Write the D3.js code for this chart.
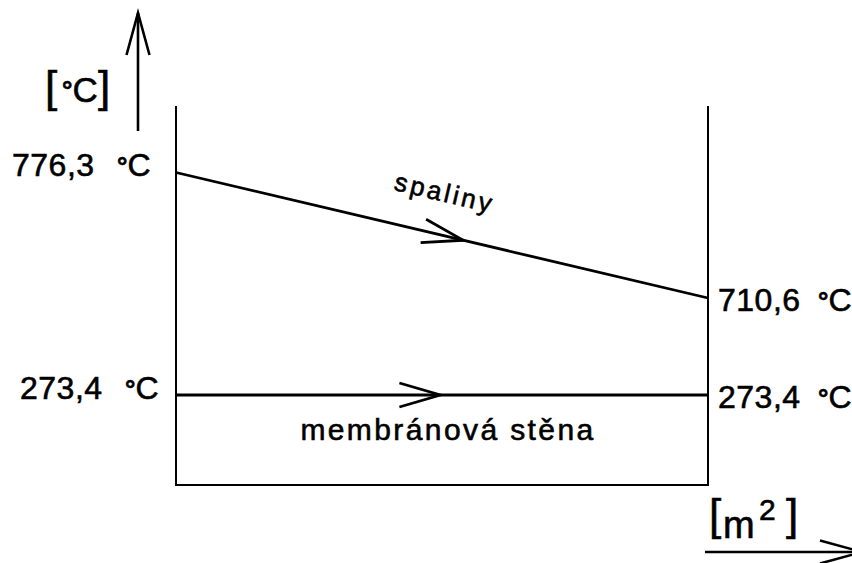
<!DOCTYPE html>
<html>
<head>
<meta charset="utf-8">
<script src="https://cdn.jsdelivr.net/npm/d3@7"></script>
<style>
  html, body { margin: 0; padding: 0; background: #fff; }
  svg { display: block; font-family: "Liberation Sans", Arial, sans-serif; }
  text { fill: #000; stroke: #000; stroke-width: 0.6px; }
</style>
</head>
<body>
<svg id="chart" width="852" height="563"></svg>
<script>
// Temperature profile of flue gas and membrane wall along the heating surface
const streams = ["spaliny", "membránová stěna"];
const inletTemps = [776.3, 273.4];   // °C at the start of the surface
const outletTemps = [710.6, 273.4];  // °C at the end of the surface
const positions = [0, 1];            // relative position along the surface area
const arrowAt = [0.54, 0.497];       // where the flow-direction arrow sits on each line
const unitY = ["[", "°C", "]"];
const unitX = ["[", "m", "2", "]"];

const svg = d3.select("#chart");

// Frame of the diagram
const frame = { left: 176, right: 708, top: 106, bottom: 485 };

const x = d3.scaleLinear().domain([0, 1]).range([frame.left, frame.right]);
// Schematic (not-to-scale) temperature axis: piecewise linear through the shown values
const tempStops = [273.4, 710.6, 776.3];
const y = d3.scaleLinear().domain(tempStops).range([395, 298, 172.5]);

const fmt = d3.formatLocale({ decimal: ",", thousands: " ", grouping: [3], currency: ["", ""] }).format(".1f");

// Frame: left, bottom and right edges
svg.append("path")
  .attr("d", `M${frame.left},${frame.top} V${frame.bottom} H${frame.right} V${frame.top}`)
  .attr("fill", "none").attr("stroke", "#000").attr("stroke-width", 2);

// Stream lines
const line = d3.line().x(d => x(d.p)).y(d => y(d.t));
const streamData = streams.map((name, i) => ({
  name,
  pts: positions.map((p, j) => ({ p, t: j === 0 ? inletTemps[i] : outletTemps[i] })),
  arrow: arrowAt[i]
}));

svg.selectAll("path.stream").data(streamData).join("path")
  .attr("class", "stream")
  .attr("d", d => line(d.pts))
  .attr("fill", "none").attr("stroke", "#000").attr("stroke-width", 2.8);

// Open arrowheads showing flow direction
function arrowHead(tipX, tipY, ang, len, half) {
  const c = Math.cos(ang), s = Math.sin(ang);
  const bx = tipX - len * c, by = tipY - len * s;
  return `M${bx - half * s},${by + half * c} L${tipX},${tipY} L${bx + half * s},${by - half * c}`;
}

svg.selectAll("path.flow").data(streamData).join("path")
  .attr("class", "flow")
  .attr("d", d => {
    const [a, b] = d.pts;
    const x0 = x(a.p), y0 = y(a.t), x1 = x(b.p), y1 = y(b.t);
    const tx = x0 + (x1 - x0) * d.arrow, ty = y0 + (y1 - y0) * d.arrow;
    return arrowHead(tx, ty, Math.atan2(y1 - y0, x1 - x0), 41, 12);
  })
  .attr("fill", "none").attr("stroke", "#000").attr("stroke-width", 2.8)
  .attr("stroke-linejoin", "miter");

// Temperature label: value, then the unit with a solid degree mark
const valueSize = 32;
function tempLabel(vx, ux, ty, t) {
  svg.append("text").attr("x", vx).attr("y", ty)
    .attr("font-size", valueSize).attr("letter-spacing", 0.5).text(fmt(t));
  const u = svg.append("text").attr("x", ux).attr("y", ty).attr("font-size", valueSize);
  u.append("tspan").attr("font-weight", "bold").attr("font-size", 26).attr("dy", -1).text("°");
  u.append("tspan").attr("dy", 1).text("C");
}
streamData.forEach((d, i) => {
  tempLabel(i === 0 ? 12 : 20, i === 0 ? 117 : 125, y(inletTemps[i]) + 3.5, inletTemps[i]);
  tempLabel(718, 818, y(outletTemps[i]) + 13, outletTemps[i]);
});

// Stream names
{
  const d = streamData[0];
  const [a, b] = d.pts;
  const x0 = x(a.p), y0 = y(a.t), x1 = x(b.p), y1 = y(b.t);
  const ang = Math.atan2(y1 - y0, x1 - x0);
  const f = 0.487;
  const cx = x0 + (x1 - x0) * f, cy = y0 + (y1 - y0) * f;
  const off = 33;
  const px = cx + off * Math.sin(ang), py = cy - off * Math.cos(ang);
  svg.append("text")
    .attr("transform", `translate(${px},${py}) rotate(${ang * 180 / Math.PI})`)
    .attr("text-anchor", "middle").attr("font-size", 26).attr("letter-spacing", 3)
    .text(d.name);
}
svg.append("text")
  .attr("x", (x(0) + x(1)) / 2 + 6).attr("y", y(inletTemps[1]) + 45)
  .attr("text-anchor", "middle").attr("font-size", 30).attr("letter-spacing", 2.4)
  .text(streamData[1].name);

// Axis arrows
const axisG = svg.append("g").attr("fill", "none").attr("stroke", "#000").attr("stroke-width", 2.6);
axisG.append("path").attr("d", `M138,131 V13`);
axisG.append("path").attr("d", arrowHead(138, 13, -Math.PI / 2, 42, 11.5));
axisG.append("path").attr("d", `M705,552 H862`);
axisG.append("path").attr("d", arrowHead(862, 552, 0, 42, 11.5));

// Axis unit labels
svg.append("text").attr("x", 45).attr("y", 102).attr("font-size", 44).text(unitY[0]);
{
  const u = svg.append("text").attr("x", 62).attr("y", 102).attr("font-size", 35);
  u.append("tspan").attr("font-weight", "bold").attr("font-size", 26).attr("dy", -3).text(unitY[1][0]);
  u.append("tspan").attr("dy", 3).text(unitY[1].slice(1));
}
svg.append("text").attr("x", 98).attr("y", 102).attr("font-size", 44).text(unitY[2]);

svg.append("text").attr("x", 709).attr("y", 530).attr("font-size", 44).text(unitX[0]);
svg.append("text").attr("x", 723).attr("y", 538).attr("font-size", 38).text(unitX[1]);
svg.append("text").attr("x", 759).attr("y", 520).attr("font-size", 30).text(unitX[2]);
svg.append("text").attr("x", 786).attr("y", 530).attr("font-size", 44).text(unitX[3]);
</script>
</body>
</html>
